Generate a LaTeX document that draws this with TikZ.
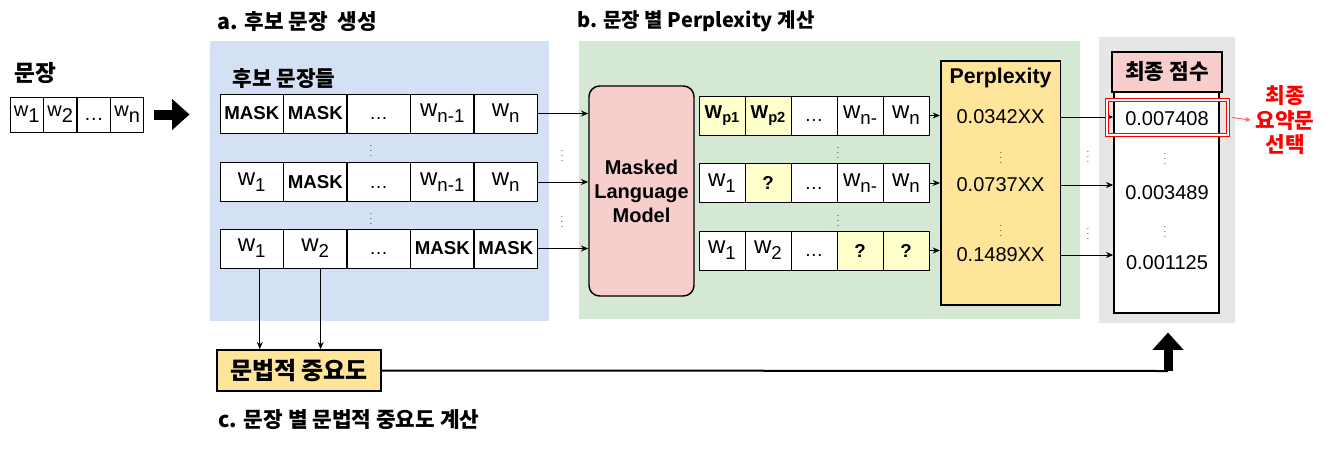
\documentclass[tikz,border=0pt]{standalone}
\usepackage{fontspec}
\setmainfont{Liberation Sans}
\newfontfamily\kr{Noto Sans CJK KR}
\usetikzlibrary{arrows.meta}

\definecolor{bluebg}{HTML}{D4E1F5}
\definecolor{greenbg}{HTML}{D5E8D4}
\definecolor{graybg}{HTML}{E6E6E6}
\definecolor{pinkfill}{HTML}{F8CECC}
\definecolor{ylwcell}{HTML}{FFFFCC}
\definecolor{orgfill}{HTML}{FFE599}
\definecolor{selred}{HTML}{FF0000}
\definecolor{lightred}{HTML}{FF6666}

\newcommand{\wsub}[3][18]{{\fontsize{#1}{#1}\selectfont #2}\raisebox{-4.5pt}{#3}}
\newcommand{\wpred}[1]{\textbf{W\raisebox{-3.5pt}{\fontsize{11}{11}\selectfont\bfseries #1}}}
\newcommand{\ellip}{\raisebox{-4.5pt}[0pt][0pt]{…}}

\tikzset{
  panel/.style={draw=none, inner sep=0pt},
  cell/.style={draw, fill=white, inner sep=0pt, minimum height=29.25pt, font=\fontsize{14}{16}\selectfont},
  acell/.style={cell, minimum width=47.6pt},
  bcell/.style={cell, minimum width=34.5pt},
  incell/.style={cell, minimum width=25.1pt, minimum height=26.25pt, font=\fontsize{15}{16}\selectfont},
  lbl/.style={anchor=west, inner sep=0pt, font=\fontsize{16}{18}\selectfont\kr\bfseries},
  box/.style={draw, line width=1.1pt, inner sep=0pt},
  val/.style={font=\fontsize{15}{18}\selectfont},
  vd/.style={inner sep=0pt, font=\fontsize{6}{6}\selectfont},
  fatarr/.style={line width=7.5pt, -{Triangle[length=13pt,width=22.5pt]}}
}

\begin{document}
\begin{tikzpicture}[x=0.75pt, y=-0.75pt, line width=0.75pt,
    >={Stealth[length=5.5pt,width=4.5pt]}]
  \useasboundingbox (0,0) rectangle (1330,450);

  % panels
  \node[panel, fill=bluebg, minimum width=254.25pt, minimum height=210pt] (pnla) at (379.5,181) {};
  \node[panel, fill=greenbg, minimum width=375.75pt, minimum height=208.5pt] (pnlb) at (829.5,180) {};
  \node[panel, fill=graybg, minimum width=102pt, minimum height=214.5pt] (pnlg) at (1167,180) {};

  % titles
  \node[lbl] (ttla) at (217,22) {a. 후보 문장\ \ 생성};
  \node[lbl, font=\fontsize{15}{18}\selectfont\kr\bfseries] (ttlb) at (577,21) {b. 문장 별 Perplexity 계산};
  \node[lbl] (ttlc) at (218,420) {c. 문장 별 문법적 중요도 계산};

  % input sentence
  \node[lbl, font=\fontsize{17}{18}\selectfont\kr\bfseries] (sent) at (14,73) {문장};
  \foreach \t [count=\i] in {{\wsub[15]{w}{1}},{\wsub[15]{w}{2}},\ellip,{\wsub[15]{w}{n}}}
    \node[incell] (in\i) at ({-6.75+33.5*\i},114.5) {\t};
  \draw[fatarr, shorten <=7.5pt, shorten >=15pt] (in4.east) -- (in4.east -| pnla.west);

  % a. candidate sentences
  \node[lbl] (cand) at (232,79) {후보 문장들};
  \foreach \t [count=\i] in {{\textbf{MASK}},{\textbf{MASK}},\ellip,{\wsub{w}{n-1}},{\wsub{w}{n}}}
    \node[acell] (a1-\i) at ({188.25+63.5*\i},113.5) {\t};
  \foreach \t [count=\i] in {{\wsub{w}{1}},{\textbf{MASK}},\ellip,{\wsub{w}{n-1}},{\wsub{w}{n}}}
    \node[acell] (a2-\i) at ({188.25+63.5*\i},182) {\t};
  \foreach \t [count=\i] in {{\wsub{w}{1}},{\wsub{w}{2}},\ellip,{\textbf{MASK}},{\textbf{MASK}}}
    \node[acell] (a3-\i) at ({188.25+63.5*\i},248.5) {\t};

  % b. perplexity
  \node[box, fill=pinkfill, rounded corners=8pt, minimum width=78.75pt, minimum height=157.5pt,
    align=center, font=\fontsize{15}{18}\selectfont\bfseries] (mlm) at (641.5,191) {Masked\\Language\\Model};
  \foreach \r in {1,2,3}
    \draw[->] (a\r-5.east) -- (a\r-5.east -| mlm.west);

  \foreach \t/\f [count=\i] in {{\wpred{p1}}/ylwcell,{\wpred{p2}}/ylwcell,\ellip/white,{\wsub{w}{n-}}/white,{\wsub{w}{n}}/white}
    \node[bcell, fill=\f] (b1-\i) at ({676+46*\i},115.5) {\t};
  \foreach \t/\f [count=\i] in {{\wsub{w}{1}}/white,{\textbf{?}}/ylwcell,\ellip/white,{\wsub{w}{n-}}/white,{\wsub{w}{n}}/white}
    \node[bcell, fill=\f] (b2-\i) at ({676+46*\i},183) {\t};
  \foreach \t/\f [count=\i] in {{\wsub{w}{1}}/white,{\wsub{w}{2}}/white,\ellip/white,{\textbf{?}}/ylwcell,{\textbf{?}}/ylwcell}
    \node[bcell, fill=\f] (b3-\i) at ({676+46*\i},250.5) {\t};

  \node[box, fill=orgfill, minimum width=89.6pt, minimum height=183pt] (ppl) at (1000.5,183) {};
  \node[font=\fontsize{16}{18}\selectfont\bfseries] (pplt) at (1000.5,78) {Perplexity};
  \node[val] (p1) at (1000.5,117) {0.0342XX};
  \node[val] (p2) at (1000.5,185) {0.0737XX};
  \node[val] (p3) at (1000.5,255) {0.1489XX};
  \foreach \r in {1,2,3}
    \draw[->] (b\r-5.east) -- (b\r-5.east -| ppl.west);

  % final scores
  \node[box, fill=white, minimum width=78.75pt, minimum height=165.75pt] (vals) at (1166.5,202.5) {};
  \node[box, fill=pinkfill, minimum width=82.5pt, minimum height=30pt,
    font=\fontsize{16}{18}\selectfont\kr\bfseries] (hdr) at (1167,72) {최종 점수};
  \node[val] (s1) at (1167,119) {0.007408};
  \node[val] (s2) at (1167,193) {0.003489};
  \node[val] (s3) at (1167,263) {0.001125};
  \foreach \r in {1,2,3}
    \draw[->] (p\r -| ppl.east) -- (p\r -| vals.west);

  \node[draw=selred, double=white, double distance=1.5pt, line width=0.6pt,
    minimum width=90.75pt, minimum height=26.25pt] (sel) at (1167.5,117.5) {};
  \node[align=center, text=selred, font=\fontsize{16}{18.4}\selectfont\kr\bfseries] (pick) at (1285,120) {최종\\요약문\\선택};
  \draw[->, lightred, >={Stealth[length=4pt,width=4pt]}] ([xshift=2.5pt]sel.east) -- (pick.west);

  % dots
  \foreach \x/\y [count=\k] in {371/147,371/215,562/152,562/218,838/149,838/217,1001/154,1001/227,1088/153,1088/230,1165/155,1165/228}
    \node[vd] (dots\k) at (\x,\y) {$\vdots$};

  % c. grammatical importance
  \node[box, fill=orgfill, minimum width=123pt, minimum height=30.75pt,
    font=\fontsize{18}{20}\selectfont\kr\bfseries] (gram) at (299,370.5) {문법적 중요도};
  \draw[->] ([xshift=6pt]a3-1.south) -- ([xshift=6pt]a3-1.south |- gram.north);
  \draw[->] ([xshift=4pt]a3-2.south) -- ([xshift=4pt]a3-2.south |- gram.north);
  \coordinate (upS) at (1168,371);
  \draw[line width=1.5pt] (gram.east) -- (upS);
  \draw[fatarr, line width=6.75pt, shorten >=6.75pt] (upS) -- (upS |- pnlg.south);
\end{tikzpicture}
\end{document}
